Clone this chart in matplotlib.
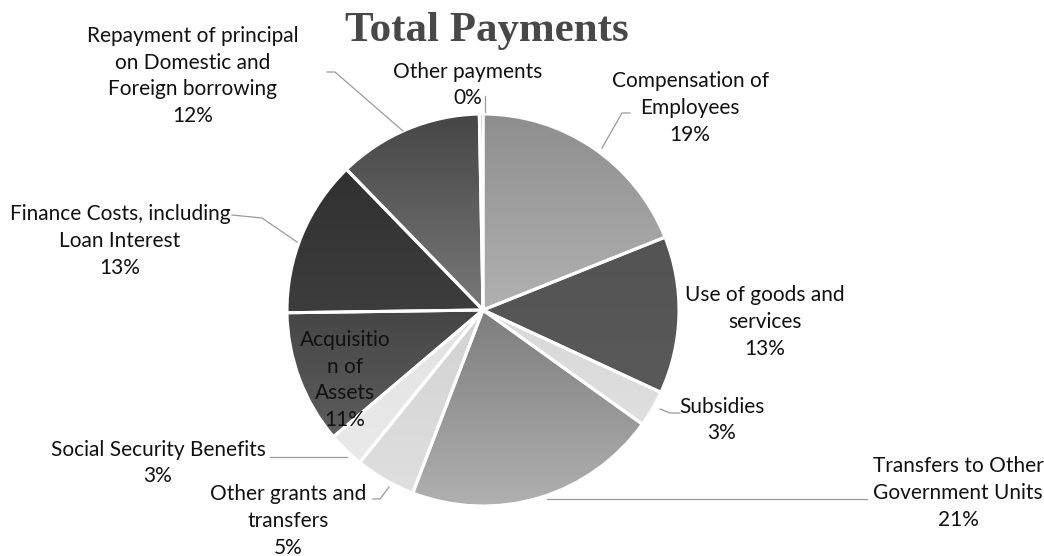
import numpy as np
import matplotlib
matplotlib.use("Agg")
import matplotlib.pyplot as plt
from matplotlib.colors import to_rgb
from matplotlib.patches import Wedge

categories = ["Compensation of\nEmployees", "Use of goods and\nservices", "Subsidies",
              "Transfers to Other\nGovernment Units", "Other grants and\ntransfers",
              "Social Security Benefits", "Acquisitio\nn of\nAssets",
              "Finance Costs, including\nLoan Interest",
              "Repayment of principal\non Domestic and\nForeign borrowing", "Other payments"]
values = [19, 13, 3, 21, 5, 3, 11, 13, 12, 0.3]
pct_labels = ["19%", "13%", "3%", "21%", "5%", "3%", "11%", "13%", "12%", "0%"]

top_cols = ["#8e8e8e", "#505050", "#cccccc", "#4a4a4a", "#c4c4c4", "#d8d8d8",
            "#222222", "#2c2c2c", "#464646", "#303030"]
bot_cols = ["#d4d4d4", "#5c5c5c", "#e4e4e4", "#b0b0b0", "#e0e0e0", "#ececec",
            "#6a6a6a", "#4e4e4e", "#acacac", "#303030"]

W, H = 1044, 556
fig = plt.figure(figsize=(W / 100, H / 100), dpi=100)
ax = fig.add_axes([0, 0, 1, 1])
cx, cy, R = 483, H - 310, 196
wedges, _ = ax.pie(values, center=(cx, cy), radius=R, startangle=90, counterclock=False,
                   colors=top_cols, wedgeprops=dict(edgecolor="white", linewidth=2.2))

# vertical gradient fill for each wedge
n = 256
for w, tc, bc in zip(wedges, top_cols, bot_cols):
    t = np.array(to_rgb(tc)); b = np.array(to_rgb(bc))
    f = np.linspace(0, 1, n)[:, None]
    grad = (t * (1 - f) + b * f)[:, None, :]
    im = ax.imshow(grad, extent=(cx - R, cx + R, cy - R, cy + R), origin="upper",
                   aspect="auto", zorder=w.get_zorder() + 0.1)
    im.set_clip_path(w)
    ax.add_patch(Wedge(w.center, w.r, w.theta1, w.theta2, facecolor="none",
                       edgecolor="white", linewidth=2.2, zorder=w.get_zorder() + 0.2))

ax.set_xlim(0, W)
ax.set_ylim(0, H)
ax.set_aspect("equal")
ax.axis("off")

def Y(y):
    return H - y

font = dict(family="Lato", fontsize=15, color="#111111", ha="center", va="center",
            linespacing=1.42)
label_pos = [(690, 108), (765, 322), (722, 420), (958, 493), (288, 521), (158, 463),
             (345, 380), (120, 241), (193, 76), (468, 85)]
for cat, pct, (x, y) in zip(categories, pct_labels, label_pos):
    ax.text(x, Y(y), cat + "\n" + pct, zorder=10, **font)

ax.text(487, Y(31), "Total Payments", family="Liberation Serif", fontweight="bold",
        fontsize=31, color="#484848", ha="center", va="center")

leaders = [
    [(630, 113), (622, 113), (602, 148)],
    [(680, 413), (670, 413), (660, 409)],
    [(867, 499), (547, 499)],
    [(373, 499), (380, 499), (389, 487)],
    [(270, 457), (347, 457)],
    [(232, 215), (262, 218), (297, 242)],
    [(327, 72), (335, 72), (403, 131)],
    [(485, 96), (485, 112)],
]
for pts in leaders:
    xs = [p[0] for p in pts]; ys = [Y(p[1]) for p in pts]
    ax.plot(xs, ys, color="#9a9a9a", lw=0.9, zorder=5)

fig.savefig("out.png", dpi=100)
